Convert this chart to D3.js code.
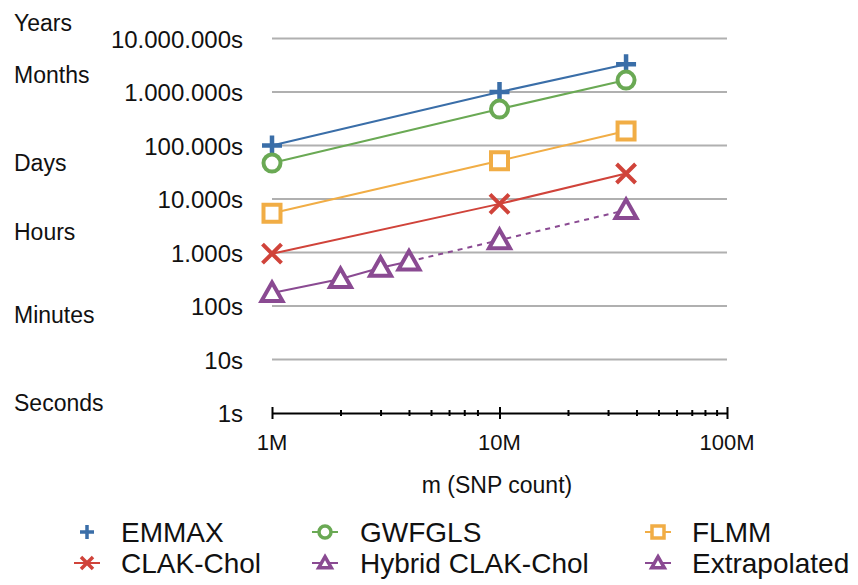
<!DOCTYPE html>
<html>
<head>
<meta charset="utf-8">
<script src="https://cdn.jsdelivr.net/npm/d3@7"></script>
<style>
  body { margin: 0; background: #fff; }
  text { font-family: "Liberation Sans", Arial, sans-serif; fill: #111; }
</style>
</head>
<body>
<div id="chart"></div>
<script>
// SNP counts (x) and run times in seconds (y)
var xMain = [1e6, 10e6, 36e6];
var emmax = [1e5, 1e6, 3.3e6];
var gwfgls = [4.7e4, 4.8e5, 1.67e6];
var flmm = [5.4e3, 5.2e4, 1.87e5];
var clakChol = [950, 8.1e3, 3.0e4];
var xHybrid = [1e6, 2e6, 3e6, 4e6];
var hybrid = [175, 320, 520, 680];
var xExtra = [4e6, 10e6, 36e6];
var extrapolated = [680, 1.7e3, 6.2e3];

var yTicks = [1, 10, 100, 1e3, 1e4, 1e5, 1e6, 1e7];
var xTicks = [1e6, 1e7, 1e8];
var xTickLabels = ["1M", "10M", "100M"];
var timeLabels = ["Years", "Months", "Days", "Hours", "Minutes", "Seconds"];
var timeLabelAt = [2e7, 2.1e6, 4.7e4, 2.4e3, 70, 1.55];

var width = 858, height = 585;

var svg = d3.select("#chart").append("svg")
    .attr("width", width)
    .attr("height", height);

var x = d3.scaleLog().domain([1e6, 1e8]).range([272, 727]);
var y = d3.scaleLog().domain([1, 1e7]).range([413, 38.5]);

var fmt = d3.formatLocale({decimal: ",", thousands: ".", grouping: [3], currency: ["", ""]}).format(",");

// gridlines
svg.append("g").selectAll("line")
    .data(yTicks.slice(1))
    .enter().append("line")
    .attr("x1", x(1e6)).attr("x2", x(1e8))
    .attr("y1", function(d) { return y(d); })
    .attr("y2", function(d) { return y(d); })
    .attr("stroke", "#b0b0b0")
    .attr("stroke-width", 2);

// y labels
svg.append("g").selectAll("text")
    .data(yTicks)
    .enter().append("text")
    .attr("x", 243)
    .attr("y", function(d) { return y(d); })
    .attr("dy", "0.38em")
    .attr("text-anchor", "end")
    .style("font-size", "24px")
    .text(function(d) { return fmt(d) + "s"; });

// time unit labels
svg.append("g").selectAll("text")
    .data(timeLabels)
    .enter().append("text")
    .attr("x", 14)
    .attr("y", function(d, i) { return y(timeLabelAt[i]); })
    .attr("dy", "0.36em")
    .style("font-size", "23px")
    .text(function(d) { return d; });

// x axis
var xAxis = d3.axisBottom(x)
    .tickValues(d3.range(1, 9).map(function(k) { return k * 1e6; })
        .concat(d3.range(1, 10).map(function(k) { return k * 1e7; })).concat([1e8]))
    .tickSize(3)
    .tickSizeOuter(0)
    .tickFormat("");

var gx = svg.append("g").attr("transform", "translate(0," + y(1) + ")").call(xAxis);
gx.select(".domain").attr("stroke", "#000").attr("stroke-width", 2);
gx.selectAll(".tick line")
    .attr("stroke", "#000")
    .attr("stroke-width", 2)
    .attr("y1", function(d) { return xTicks.indexOf(d) >= 0 ? -6 : -3; })
    .attr("y2", function(d) { return xTicks.indexOf(d) >= 0 ? 6 : 3; });

svg.append("g").selectAll("text")
    .data(xTicks)
    .enter().append("text")
    .attr("x", function(d) { return x(d); })
    .attr("y", 450)
    .attr("text-anchor", "middle")
    .style("font-size", "22px")
    .text(function(d, i) { return xTickLabels[i]; });

svg.append("text")
    .attr("x", 497).attr("y", 493)
    .attr("text-anchor", "middle")
    .style("font-size", "23px")
    .text("m (SNP count)");

// marker shapes, s = half size
function markerPath(type, s) {
    if (type === "plus") return "M" + (-s) + ",0H" + s + "M0," + (-s) + "V" + s;
    if (type === "x") return "M" + (-s) + "," + (-s) + "L" + s + "," + s + "M" + (-s) + "," + s + "L" + s + "," + (-s);
    if (type === "square") return "M" + (-s) + "," + (-s) + "H" + s + "V" + s + "H" + (-s) + "Z";
    if (type === "circle") return "M" + s + ",0A" + s + "," + s + " 0 1,1 " + (-s) + ",0A" + s + "," + s + " 0 1,1 " + s + ",0Z";
    if (type === "triangle") return "M0," + (-s * 1.05) + "L" + (s * 1.05) + "," + (s * 0.8) + "H" + (-s * 1.05) + "Z";
}

var series = [
    {name: "EMMAX", xs: xMain, ys: emmax, color: "#3a6ea8", marker: "plus", size: 10, dash: null},
    {name: "GWFGLS", xs: xMain, ys: gwfgls, color: "#6aa954", marker: "circle", size: 8.5, dash: null},
    {name: "FLMM", xs: xMain, ys: flmm, color: "#f1ad45", marker: "square", size: 8.5, dash: null},
    {name: "CLAK-Chol", xs: xMain, ys: clakChol, color: "#d0433a", marker: "x", size: 9.5, dash: null},
    {name: "Hybrid CLAK-Chol", xs: xHybrid, ys: hybrid, color: "#8a4a92", marker: "triangle", size: 10, dash: null},
    {name: "Extrapolated", xs: xExtra, ys: extrapolated, color: "#8a4a92", marker: "triangle", size: 10, dash: "5,5"}
];

var line = d3.line()
    .x(function(d) { return x(d[0]); })
    .y(function(d) { return y(d[1]); });

series.forEach(function(s) {
    var pts = s.xs.map(function(v, i) { return [v, s.ys[i]]; });
    svg.append("path")
        .attr("d", line(pts))
        .attr("fill", "none")
        .attr("stroke", s.color)
        .attr("stroke-width", 2)
        .attr("stroke-dasharray", s.dash);
});

series.forEach(function(s) {
    var pts = s.xs.map(function(v, i) { return [v, s.ys[i]]; });
    if (s.name === "Extrapolated") pts = pts.slice(1);
    svg.append("g").selectAll("path")
        .data(pts)
        .enter().append("path")
        .attr("transform", function(d) { return "translate(" + x(d[0]) + "," + y(d[1]) + ")"; })
        .attr("d", markerPath(s.marker, s.size))
        .attr("fill", (s.marker === "plus" || s.marker === "x") ? "none" : "#fff")
        .attr("stroke", s.color)
        .attr("stroke-width", s.marker === "plus" ? 4.5 : 4);
});

// legend
var legCols = [87, 325, 658];
var legRows = [532, 563];
var leg = svg.append("g").selectAll("g")
    .data(series)
    .enter().append("g")
    .attr("transform", function(d, i) { return "translate(" + legCols[i % 3] + "," + legRows[Math.floor(i / 3)] + ")"; });

leg.filter(function(d) { return d.marker !== "plus"; })
    .append("line")
    .attr("x1", -13).attr("x2", 13)
    .attr("stroke", function(d) { return d.color; })
    .attr("stroke-width", 2);

leg.append("path")
    .attr("d", function(d) { return markerPath(d.marker, d.marker === "plus" ? 7 : 6); })
    .attr("fill", function(d) { return (d.marker === "plus" || d.marker === "x") ? "none" : "#fff"; })
    .attr("stroke", function(d) { return d.color; })
    .attr("stroke-width", 3.5);

leg.append("text")
    .attr("x", function(d, i) { return [34, 35, 34][i % 3]; })
    .attr("dy", "0.36em")
    .style("font-size", "28px")
    .text(function(d) { return d.name; });
</script>
</body>
</html>
